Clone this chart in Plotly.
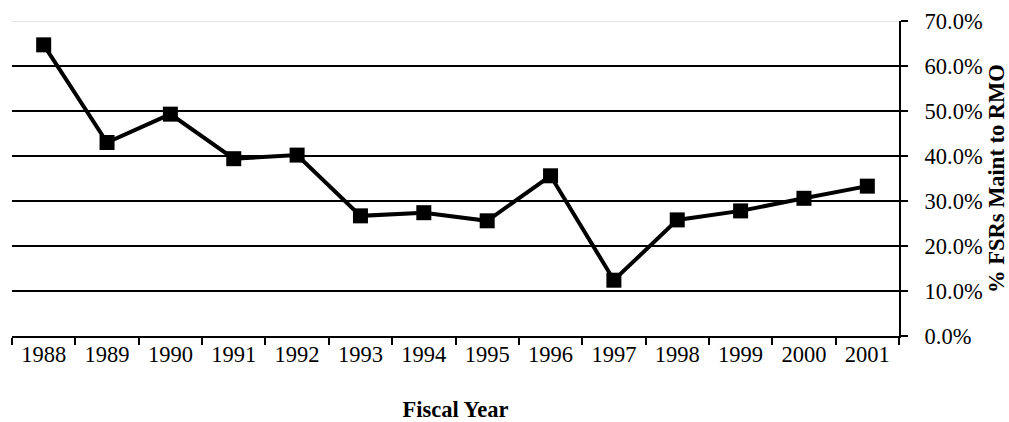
import plotly.graph_objects as go

years = ["1988", "1989", "1990", "1991", "1992", "1993", "1994",
         "1995", "1996", "1997", "1998", "1999", "2000", "2001"]
pct_fsrs = [64.7, 43.0, 49.3, 39.4, 40.2, 26.7, 27.4,
            25.6, 35.6, 12.4, 25.8, 27.8, 30.6, 33.3]
y_ticks = [0, 10, 20, 30, 40, 50, 60, 70]
grid_vals = [10, 20, 30, 40, 50, 60]

FONT = "Liberation Serif, Times New Roman, serif"
FS = 22.5

fig = go.Figure()
fig.add_trace(go.Scatter(
    x=years, y=pct_fsrs, mode="lines+markers",
    line=dict(color="black", width=4),
    marker=dict(symbol="square", size=15, color="black"),
    yaxis="y", showlegend=False, cliponaxis=False,
))
# invisible trace carrying the black horizontal grid
fig.add_trace(go.Scatter(
    x=years, y=pct_fsrs, mode="none", yaxis="y2",
    showlegend=False, hoverinfo="skip",
))

fig.update_layout(
    width=1009, height=422,
    margin=dict(l=12, r=110, t=21, b=86),
    paper_bgcolor="white", plot_bgcolor="white",
    font=dict(family=FONT, size=FS, color="black"),
    xaxis=dict(
        type="category", range=[-0.5, 13.5], automargin=False,
        tickson="boundaries", ticks="outside", ticklen=7, tickwidth=2,
        tickcolor="black", showline=True, linecolor="black", linewidth=2,
        ticklabelstandoff=-3,
        showgrid=False, tickfont=dict(size=FS),
        title=dict(text="<b>Fiscal Year</b>", font=dict(size=FS), standoff=36),
    ),
    yaxis=dict(
        side="right", range=[0, 70], tickvals=y_ticks, automargin=False,
        ticktext=[f"{v:.1f}%" for v in y_ticks],
        ticks="outside", ticklen=7, tickwidth=2, tickcolor="black",
        ticklabelstandoff=12,
        showline=True, linecolor="black", linewidth=2,
        showgrid=False, zeroline=False, tickfont=dict(size=FS),
        title=dict(text="<b>% FSRs Maint to RMO</b>", font=dict(size=FS), standoff=8),
    ),
    yaxis2=dict(
        overlaying="y", side="right", range=[0, 70], tickvals=grid_vals,
        automargin=False,
        showticklabels=False, ticks="", showline=False, zeroline=False,
        showgrid=True, gridcolor="black", gridwidth=2, layer="below traces",
    ),
    shapes=[dict(type="line", xref="paper", yref="y", x0=0, x1=1, y0=70, y1=70,
                 line=dict(color="#c8c8c8", width=1))],
)

fig.write_html("out.html")
